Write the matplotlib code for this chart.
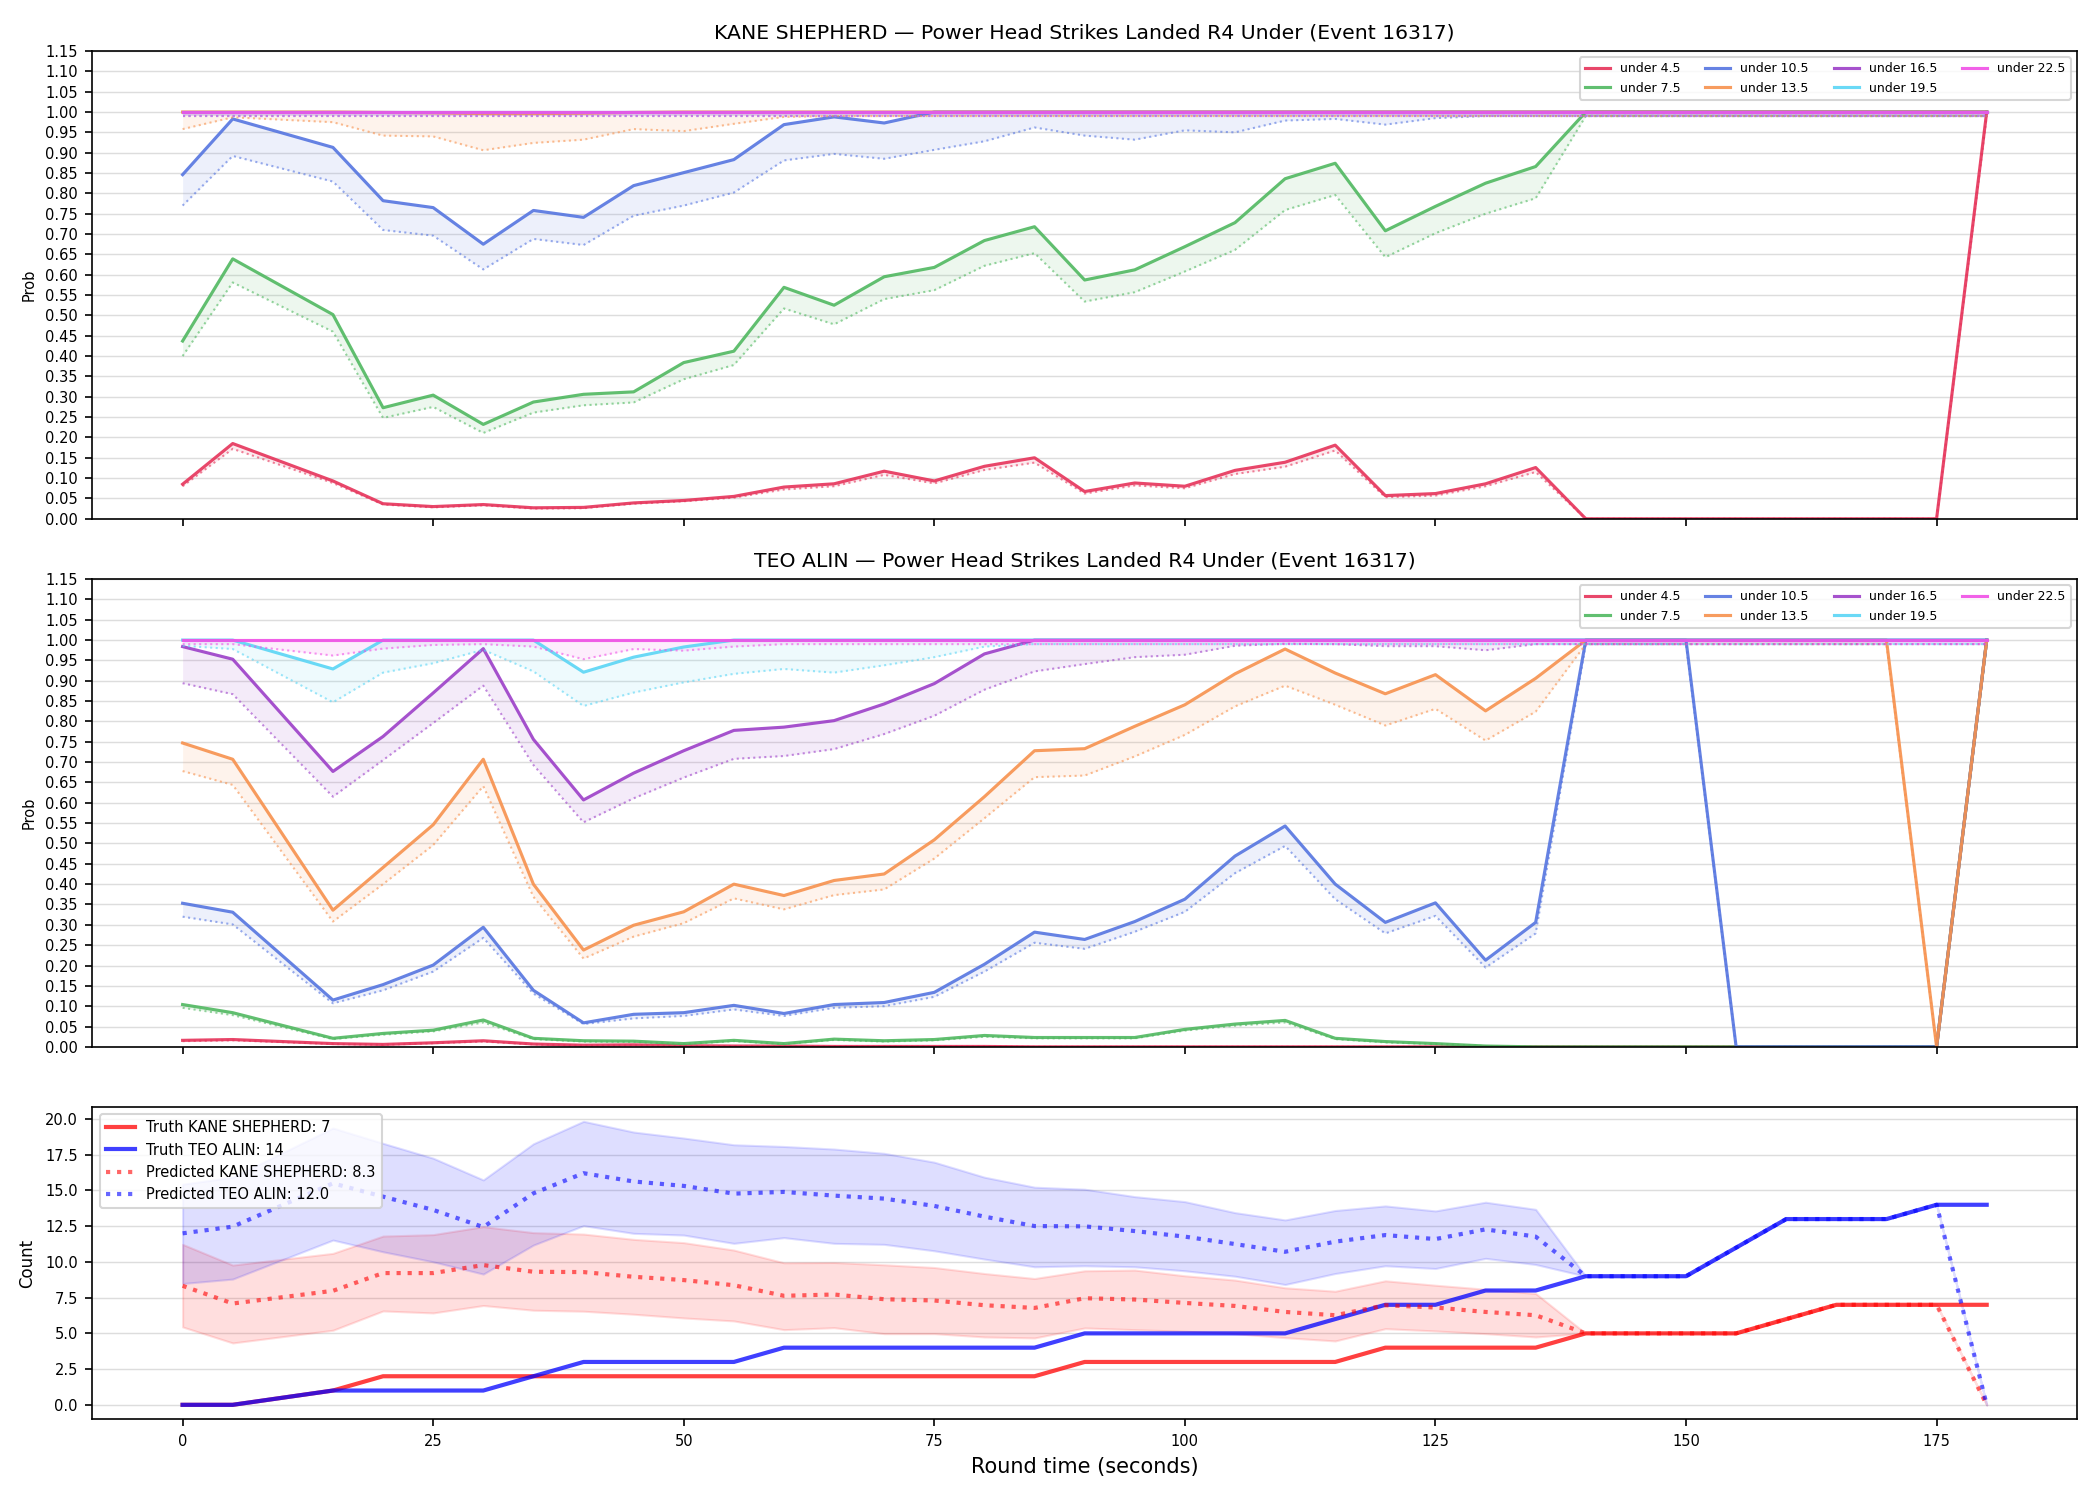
import numpy as np
import matplotlib
matplotlib.use('Agg')
import matplotlib.pyplot as plt

# round time (s) -- no sample at t=10
t = [0, 5, 15, 20, 25, 30, 35, 40, 45, 50, 55, 60, 65, 70, 75, 80, 85, 90,
     95, 100, 105, 110, 115, 120, 125, 130, 135, 140, 145, 150, 155, 160, 165, 170, 175, 180]

labels = ['under 4.5', 'under 7.5', 'under 10.5', 'under 13.5',
          'under 16.5', 'under 19.5', 'under 22.5']
colors = ['#e6335a', '#50b860', '#5575e0', '#f7914d', '#9c3fc8', '#5ad5f5', '#f050e6']

# ---- KANE SHEPHERD: market (solid) / predicted (dotted)
kane_u45 = [0.085, 0.185, 0.093, 0.037, 0.030, 0.035, 0.027, 0.028, 0.039, 0.045, 0.055, 0.078,
            0.086, 0.117, 0.093, 0.129, 0.150, 0.067, 0.088, 0.080, 0.119, 0.139, 0.181, 0.057,
            0.062, 0.086, 0.126, 0.0, 0.0, 0.0, 0.0, 0.0, 0.0, 0.0, 0.0, 1.0]
kane_u45_p = [0.080, 0.172, 0.088, 0.035, 0.028, 0.033, 0.025, 0.026, 0.037, 0.043, 0.052, 0.072,
              0.080, 0.108, 0.087, 0.120, 0.138, 0.062, 0.082, 0.075, 0.110, 0.128, 0.168, 0.053,
              0.057, 0.080, 0.115, 0.0, 0.0, 0.0, 0.0, 0.0, 0.0, 0.0, 0.0, 0.99]
kane_u75 = [0.437, 0.639, 0.502, 0.273, 0.304, 0.232, 0.287, 0.306, 0.312, 0.384, 0.412, 0.569,
            0.525, 0.595, 0.618, 0.684, 0.718, 0.587, 0.612, 0.669, 0.728, 0.836, 0.874, 0.708,
            0.768, 0.825, 0.866, 1.0, 1.0, 1.0, 1.0, 1.0, 1.0, 1.0, 1.0, 1.0]
kane_u75_p = [0.400, 0.581, 0.460, 0.248, 0.275, 0.211, 0.261, 0.279, 0.286, 0.343, 0.378, 0.517,
              0.478, 0.540, 0.562, 0.622, 0.653, 0.534, 0.557, 0.608, 0.661, 0.759, 0.796, 0.643,
              0.702, 0.750, 0.788, 0.99, 0.99, 0.99, 0.99, 0.99, 0.99, 0.99, 0.99, 0.99]
kane_u105 = [0.846, 0.983, 0.913, 0.782, 0.765, 0.675, 0.758, 0.741, 0.819, 0.851, 0.883, 0.969,
             0.988, 0.973, 1.0, 1.0, 1.0, 1.0, 1.0, 1.0, 1.0, 1.0, 1.0, 1.0,
             1.0, 1.0, 1.0, 1.0, 1.0, 1.0, 1.0, 1.0, 1.0, 1.0, 1.0, 1.0]
kane_u105_p = [0.770, 0.892, 0.829, 0.710, 0.696, 0.613, 0.688, 0.673, 0.745, 0.770, 0.802, 0.881,
               0.897, 0.885, 0.907, 0.928, 0.962, 0.942, 0.932, 0.955, 0.950, 0.979, 0.983, 0.969,
               0.985, 0.99, 0.99, 0.99, 0.99, 0.99, 0.99, 0.99, 0.99, 0.99, 0.99, 0.99]
kane_u135 = [1.0, 1.0, 1.0, 0.999, 0.998, 0.996, 0.996, 0.997, 0.999, 1.0, 1.0, 1.0,
             1.0, 1.0, 1.0, 1.0, 1.0, 1.0, 1.0, 1.0, 1.0, 1.0, 1.0, 1.0,
             1.0, 1.0, 1.0, 1.0, 1.0, 1.0, 1.0, 1.0, 1.0, 1.0, 1.0, 1.0]
kane_u135_p = [0.958, 0.987, 0.975, 0.942, 0.940, 0.906, 0.924, 0.932, 0.958, 0.953, 0.971, 0.988,
               0.99, 0.99, 0.99, 0.99, 0.99, 0.99, 0.99, 0.99, 0.99, 0.99, 0.99, 0.99,
               0.99, 0.99, 0.99, 0.99, 0.99, 0.99, 0.99, 0.99, 0.99, 0.99, 0.99, 0.99]
kane_u165 = [1.0] * 36
kane_u165_p = [0.99] * 36
kane_u195 = [1.0] * 36
kane_u195_p = [0.99] * 36
kane_u225 = [1.0] * 36
kane_u225_p = [0.99] * 36

# ---- TEO ALIN
teo_u45 = [0.016, 0.018, 0.008, 0.006, 0.010, 0.015, 0.007, 0.004, 0.005, 0.003, 0.002, 0.002,
           0.001, 0.001, 0.001, 0.001, 0.0, 0.0, 0.0, 0.0, 0.0, 0.0, 0.0, 0.0,
           0.0, 0.0, 0.0, 0.0, 0.0, 0.0, 0.0, 0.0, 0.0, 0.0, 0.0, 1.0]
teo_u45_p = [0.014, 0.016, 0.007, 0.005, 0.009, 0.013, 0.006, 0.003, 0.004, 0.002, 0.002, 0.001,
             0.001, 0.001, 0.001, 0.001, 0.0, 0.0, 0.0, 0.0, 0.0, 0.0, 0.0, 0.0,
             0.0, 0.0, 0.0, 0.0, 0.0, 0.0, 0.0, 0.0, 0.0, 0.0, 0.0, 0.99]
teo_u75 = [0.104, 0.084, 0.021, 0.033, 0.041, 0.066, 0.021, 0.015, 0.014, 0.008, 0.016, 0.008,
           0.019, 0.015, 0.018, 0.028, 0.023, 0.023, 0.023, 0.043, 0.056, 0.065, 0.021, 0.013,
           0.008, 0.002, 0.0, 0.0, 0.0, 0.0, 0.0, 0.0, 0.0, 0.0, 0.0, 1.0]
teo_u75_p = [0.096, 0.078, 0.019, 0.030, 0.038, 0.060, 0.019, 0.013, 0.012, 0.007, 0.014, 0.007,
             0.017, 0.013, 0.016, 0.025, 0.021, 0.021, 0.021, 0.040, 0.052, 0.060, 0.019, 0.011,
             0.007, 0.002, 0.0, 0.0, 0.0, 0.0, 0.0, 0.0, 0.0, 0.0, 0.0, 0.99]
teo_u105 = [0.353, 0.331, 0.115, 0.153, 0.201, 0.294, 0.139, 0.059, 0.080, 0.084, 0.102, 0.082,
            0.104, 0.109, 0.134, 0.203, 0.282, 0.264, 0.308, 0.363, 0.469, 0.543, 0.400, 0.306,
            0.354, 0.213, 0.306, 1.0, 1.0, 1.0, 0.0, 0.0, 0.0, 0.0, 0.0, 1.0]
teo_u105_p = [0.320, 0.301, 0.107, 0.139, 0.185, 0.268, 0.131, 0.056, 0.070, 0.076, 0.092, 0.076,
              0.096, 0.100, 0.123, 0.185, 0.256, 0.241, 0.283, 0.332, 0.427, 0.494, 0.363, 0.279,
              0.322, 0.195, 0.279, 0.99, 0.99, 0.99, 0.0, 0.0, 0.0, 0.0, 0.0, 0.99]
teo_u135 = [0.747, 0.707, 0.336, 0.441, 0.546, 0.707, 0.400, 0.238, 0.299, 0.332, 0.400, 0.372,
            0.409, 0.425, 0.509, 0.615, 0.728, 0.733, 0.788, 0.841, 0.917, 0.978, 0.919, 0.868,
            0.915, 0.826, 0.906, 1.0, 1.0, 1.0, 1.0, 1.0, 1.0, 1.0, 0.0, 1.0]
teo_u135_p = [0.678, 0.644, 0.308, 0.400, 0.496, 0.641, 0.369, 0.217, 0.271, 0.304, 0.365, 0.338,
              0.373, 0.387, 0.463, 0.562, 0.663, 0.667, 0.714, 0.767, 0.837, 0.888, 0.841, 0.790,
              0.831, 0.753, 0.824, 0.99, 0.99, 0.99, 0.99, 0.99, 0.99, 0.99, 0.0, 0.99]
teo_u165 = [0.984, 0.953, 0.677, 0.763, 0.870, 0.979, 0.756, 0.607, 0.673, 0.728, 0.778, 0.786,
            0.802, 0.843, 0.893, 0.966, 1.0, 1.0, 1.0, 1.0, 1.0, 1.0, 1.0, 1.0,
            1.0, 1.0, 1.0, 1.0, 1.0, 1.0, 1.0, 1.0, 1.0, 1.0, 1.0, 1.0]
teo_u165_p = [0.894, 0.867, 0.615, 0.705, 0.796, 0.888, 0.693, 0.552, 0.611, 0.662, 0.708, 0.715,
              0.732, 0.769, 0.814, 0.878, 0.923, 0.941, 0.958, 0.964, 0.986, 0.991, 0.990, 0.985,
              0.985, 0.975, 0.990, 0.99, 0.99, 0.99, 0.99, 0.99, 0.99, 0.99, 0.99, 0.99]
teo_u195 = [1.0, 1.0, 0.929, 1.0, 1.0, 1.0, 1.0, 0.921, 0.958, 0.983, 1.0, 1.0,
            1.0, 1.0, 1.0, 1.0, 1.0, 1.0, 1.0, 1.0, 1.0, 1.0, 1.0, 1.0,
            1.0, 1.0, 1.0, 1.0, 1.0, 1.0, 1.0, 1.0, 1.0, 1.0, 1.0, 1.0]
teo_u195_p = [0.986, 0.978, 0.847, 0.920, 0.943, 0.976, 0.923, 0.838, 0.871, 0.896, 0.917, 0.929,
              0.920, 0.938, 0.958, 0.984, 0.99, 0.99, 0.99, 0.99, 0.99, 0.99, 0.99, 0.99,
              0.99, 0.99, 0.99, 0.99, 0.99, 0.99, 0.99, 0.99, 0.99, 0.99, 0.99, 0.99]
teo_u225 = [1.0] * 36
teo_u225_p = [0.990, 0.990, 0.962, 0.979, 0.988, 0.990, 0.984, 0.953, 0.978, 0.974, 0.984, 0.99,
              0.99, 0.99, 0.99, 0.99, 0.99, 0.99, 0.99, 0.99, 0.99, 0.99, 0.99, 0.99,
              0.99, 0.99, 0.99, 0.99, 0.99, 0.99, 0.99, 0.99, 0.99, 0.99, 0.99, 0.99]

# ---- counts
truth_kane = [0, 0, 1, 2, 2, 2, 2, 2, 2, 2, 2, 2, 2, 2, 2, 2, 2, 3,
              3, 3, 3, 3, 3, 4, 4, 4, 4, 5, 5, 5, 5, 6, 7, 7, 7, 7]
truth_teo = [0, 0, 1, 1, 1, 1, 2, 3, 3, 3, 3, 4, 4, 4, 4, 4, 4, 5,
             5, 5, 5, 5, 6, 7, 7, 8, 8, 9, 9, 9, 11, 13, 13, 13, 14, 14]
pred_kane = [8.33, 7.09, 7.98, 9.22, 9.22, 9.78, 9.31, 9.29, 8.96, 8.73, 8.37, 7.63,
             7.72, 7.39, 7.30, 6.97, 6.78, 7.46, 7.37, 7.13, 6.92, 6.50, 6.27, 6.97,
             6.81, 6.50, 6.27, 5, 5, 5, 5, 6, 7, 7, 7, 0]
pred_teo = [12.0, 12.47, 15.5, 14.57, 13.64, 12.44, 14.8, 16.21, 15.63, 15.32, 14.78, 14.9,
            14.64, 14.43, 13.92, 13.17, 12.51, 12.49, 12.16, 11.77, 11.25, 10.71, 11.42, 11.88,
            11.6, 12.28, 11.77, 9, 9, 9, 11, 13, 13, 13, 14, 0]
kane_hi = [11.23, 9.78, 10.6, 11.81, 11.91, 12.47, 12.05, 11.95, 11.58, 11.35, 10.83, 9.94,
           9.96, 9.8, 9.61, 9.19, 8.84, 9.38, 9.43, 9.03, 8.73, 8.19, 7.95, 8.68,
           8.37, 8.09, 7.79, 5, 5, 5, 5, 6, 7, 7, 7, 0]
kane_lo = [5.45, 4.33, 5.22, 6.57, 6.43, 6.95, 6.62, 6.55, 6.34, 6.08, 5.87, 5.26,
           5.4, 4.98, 4.98, 4.75, 4.68, 5.38, 5.26, 5.15, 4.98, 4.7, 4.47, 5.33,
           5.17, 4.98, 4.75, 5, 5, 5, 5, 6, 7, 7, 7, 0]
teo_hi = [15.44, 15.93, 19.37, 18.3, 17.26, 15.74, 18.27, 19.84, 19.09, 18.67, 18.2, 18.08,
          17.9, 17.6, 16.98, 15.93, 15.23, 15.09, 14.57, 14.22, 13.45, 12.94, 13.6, 13.92,
          13.57, 14.18, 13.68, 9, 9, 9, 11, 13, 13, 13, 14, 0]
teo_lo = [8.49, 8.8, 11.53, 10.71, 10.01, 9.15, 11.18, 12.54, 12.0, 11.88, 11.3, 11.7,
          11.3, 11.23, 10.78, 10.2, 9.66, 9.73, 9.66, 9.38, 9.0, 8.42, 9.19, 9.73,
          9.54, 10.25, 9.82, 9, 9, 9, 11, 13, 13, 13, 14, 0]

kane_lines = [(kane_u45, kane_u45_p), (kane_u75, kane_u75_p), (kane_u105, kane_u105_p),
              (kane_u135, kane_u135_p), (kane_u165, kane_u165_p), (kane_u195, kane_u195_p),
              (kane_u225, kane_u225_p)]
teo_lines = [(teo_u45, teo_u45_p), (teo_u75, teo_u75_p), (teo_u105, teo_u105_p),
             (teo_u135, teo_u135_p), (teo_u165, teo_u165_p), (teo_u195, teo_u195_p),
             (teo_u225, teo_u225_p)]


def plot_prob_panel(ax, lines, title):
    for (mkt, pred), lab, col in zip(lines, labels, colors):
        ax.fill_between(t, mkt, pred, color=col, alpha=0.1, linewidth=0)
        ax.plot(t, mkt, color=col, lw=1.5, alpha=0.9, label=lab)
        ax.plot(t, pred, color=col, lw=1.0, alpha=0.6, linestyle=':')
    ax.set_title(title, fontsize=9.8)
    ax.set_ylabel('Prob', fontsize=7)
    ax.set_ylim(0, 1.15)
    ax.set_yticks(np.arange(0, 1.151, 0.05))
    ax.tick_params(labelsize=7)
    ax.grid(axis='y', color='#dddddd', linewidth=0.7)
    ax.set_axisbelow(True)
    ax.legend(loc='upper right', ncol=4, fontsize=6, framealpha=0.8)


fig, axes = plt.subplots(3, 1, figsize=(14, 10), dpi=150, sharex=True,
                         gridspec_kw={'height_ratios': [3, 3, 2]})
fig.subplots_adjust(left=0.044, right=0.989, top=0.966, bottom=0.054, hspace=0.145)

plot_prob_panel(axes[0], kane_lines,
                'KANE SHEPHERD \u2014 Power Head Strikes Landed R4 Under (Event 16317)')
plot_prob_panel(axes[1], teo_lines,
                'TEO ALIN \u2014 Power Head Strikes Landed R4 Under (Event 16317)')

ax = axes[2]
ax.fill_between(t, kane_lo, kane_hi, color='red', alpha=0.13)
ax.fill_between(t, teo_lo, teo_hi, color='blue', alpha=0.13)
ax.plot(t, truth_kane, color='red', lw=2, alpha=0.75,
        label='Truth KANE SHEPHERD: %d' % truth_kane[-1])
ax.plot(t, truth_teo, color='blue', lw=2, alpha=0.75,
        label='Truth TEO ALIN: %d' % truth_teo[-1])
ax.plot(t, pred_kane, color='red', lw=2, alpha=0.6, linestyle=':',
        label='Predicted KANE SHEPHERD: %.1f' % pred_kane[0])
ax.plot(t, pred_teo, color='blue', lw=2, alpha=0.6, linestyle=':',
        label='Predicted TEO ALIN: %.1f' % pred_teo[0])
ax.set_ylabel('Count', fontsize=8)
ax.set_xlabel('Round time (seconds)', fontsize=10)
ax.tick_params(labelsize=7)
ax.grid(axis='y', color='#dddddd', linewidth=0.7)
ax.set_axisbelow(True)
ax.legend(loc='upper left', fontsize=7, framealpha=0.8)

fig.savefig('out.png', dpi=150)
